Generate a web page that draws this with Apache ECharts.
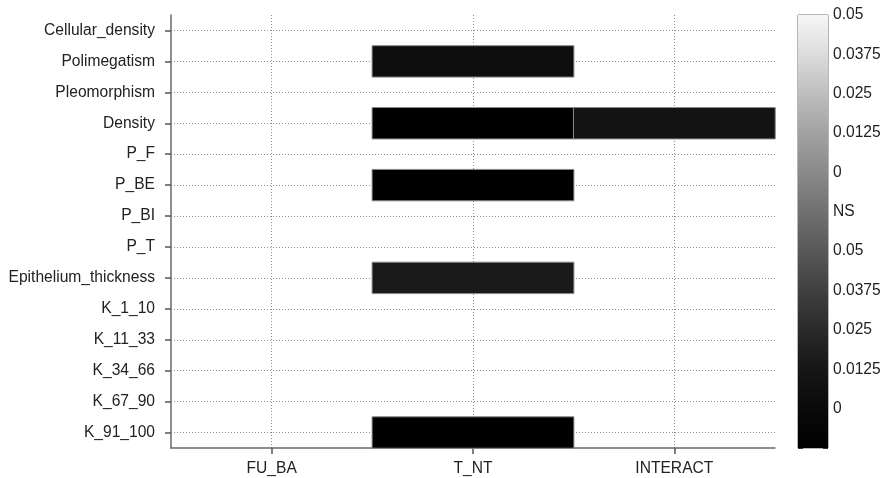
<!DOCTYPE html>
<html>
<head>
<meta charset="utf-8">
<script src="https://cdn.jsdelivr.net/npm/echarts@6/dist/echarts.min.js"></script>
<style>
html,body{margin:0;padding:0;background:#fff;}
#chart{width:885px;height:478px;}
</style>
</head>
<body>
<div id="chart"></div>
<script>
// Categories
var factors = ['FU_BA', 'T_NT', 'INTERACT'];
var variables = ['Cellular_density', 'Polimegatism', 'Pleomorphism', 'Density', 'P_F', 'P_BE', 'P_BI', 'P_T',
  'Epithelium_thickness', 'K_1_10', 'K_11_33', 'K_34_66', 'K_67_90', 'K_91_100'];
// Significant cells: [factor, variable, p-value]
var cellFactor = ['T_NT', 'T_NT', 'INTERACT', 'T_NT', 'T_NT', 'T_NT'];
var cellVariable = ['Polimegatism', 'Density', 'Density', 'P_BE', 'Epithelium_thickness', 'K_91_100'];
var cellP = [0.008, 0.0, 0.011, 0.0, 0.015, 0.0];
// Colour bar tick labels (bottom to top, one per unit)
var colorbarLabels = ['', '0', '0.0125', '0.025', '0.0375', '0.05', 'NS', '0', '0.0125', '0.025', '0.0375', '0.05'];

var heatData = cellP.map(function (p, i) {
  return [factors.indexOf(cellFactor[i]), variables.indexOf(cellVariable[i]), p];
});

var FONT = "'Liberation Sans', Arial, sans-serif";
var FS = 15.6;
var chart = echarts.init(document.getElementById('chart'), null, {renderer: 'canvas'});
chart.setOption({
  backgroundColor: '#fff',
  animation: false,
  textStyle: {fontFamily: FONT},
  grid: [
    {left: 171, top: 15, width: 604, height: 433, containLabel: false},
    {left: 798, top: 15, width: 30, height: 433, show: true, borderColor: '#6e6e6e', borderWidth: 1, backgroundColor: 'transparent'}
  ],
  xAxis: [
    {
      type: 'category', gridIndex: 0, data: factors,
      axisLine: {show: true, lineStyle: {color: '#6a6a6a', width: 1.5}},
      axisTick: {show: true, alignWithLabel: true, length: 6, lineStyle: {color: '#555', width: 1.5}},
      axisLabel: {color: '#222', fontSize: FS, margin: 13, fontFamily: FONT},
      splitLine: {show: true, alignWithLabel: true, lineStyle: {color: '#8e8e8e', type: [1, 2], width: 1}}
    },
    {
      type: 'category', gridIndex: 1, data: ['cb'], show: false
    }
  ],
  yAxis: [
    {
      type: 'category', gridIndex: 0, data: variables, inverse: true,
      axisLine: {show: true, lineStyle: {color: '#6a6a6a', width: 1.5}},
      axisTick: {show: true, alignWithLabel: true, length: 6, lineStyle: {color: '#555', width: 1.5}},
      axisLabel: {color: '#222', fontSize: FS, margin: 16, fontFamily: FONT},
      splitLine: {show: true, alignWithLabel: true, lineStyle: {color: '#8e8e8e', type: [1, 2], width: 1}}
    },
    {
      type: 'value', gridIndex: 1, position: 'right', min: 0, max: 11, interval: 1,
      axisLine: {show: false},
      axisTick: {show: true, inside: true, length: 5, lineStyle: {color: '#333', width: 1}},
      axisLabel: {
        color: '#222', fontSize: FS, margin: 5, fontFamily: FONT,
        showMinLabel: true, showMaxLabel: true,
        formatter: function (v) { return colorbarLabels[Math.round(v)] || ''; }
      },
      splitLine: {show: false}
    },
    {
      type: 'value', gridIndex: 1, position: 'left', min: 0, max: 11, interval: 1,
      axisLine: {show: false},
      axisTick: {show: true, inside: true, length: 5, lineStyle: {color: '#333', width: 1}},
      axisLabel: {show: false},
      splitLine: {show: false}
    }
  ],
  visualMap: {
    type: 'continuous', show: false, seriesIndex: 0, dimension: 2,
    min: 0, max: 0.05,
    inRange: {color: ['#000000', '#161616', '#2a2a2a', '#404040', '#585858']}
  },
  series: [
    {
      type: 'heatmap', xAxisIndex: 0, yAxisIndex: 0, data: heatData,
      itemStyle: {borderColor: '#8a8a8a', borderWidth: 1},
      emphasis: {disabled: true},
      z: 3
    },
    {
      type: 'bar', xAxisIndex: 1, yAxisIndex: 1, data: [11], barWidth: '100%',
      silent: true, z: 1,
      itemStyle: {
        color: {
          type: 'linear', x: 0, y: 0, x2: 0, y2: 1,
          colorStops: [
            {offset: 0, color: '#f6f6f6'},
            {offset: 1 / 11, color: '#dcdcdc'},
            {offset: 2 / 11, color: '#bebebe'},
            {offset: 3 / 11, color: '#a2a2a2'},
            {offset: 4 / 11, color: '#8a8a8a'},
            {offset: 5 / 11, color: '#707070'},
            {offset: 6 / 11, color: '#585858'},
            {offset: 7 / 11, color: '#404040'},
            {offset: 8 / 11, color: '#2a2a2a'},
            {offset: 9 / 11, color: '#161616'},
            {offset: 10 / 11, color: '#0a0a0a'},
            {offset: 1, color: '#000000'}
          ]
        }
      }
    }
  ]
});
</script>
</body>
</html>
